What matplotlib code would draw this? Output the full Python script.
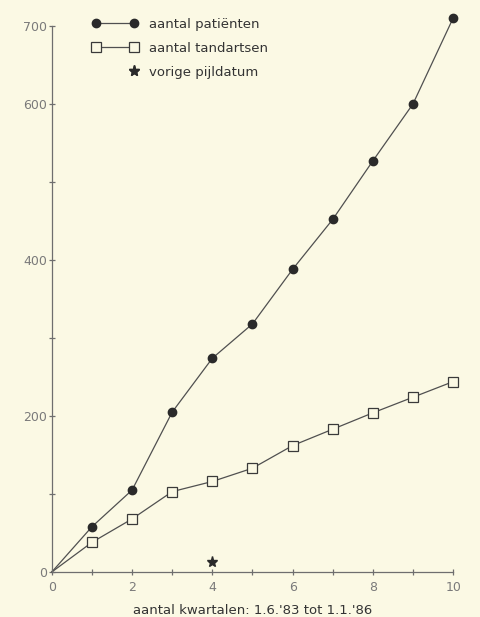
import matplotlib
matplotlib.use("Agg")
import matplotlib.pyplot as plt
from matplotlib.legend_handler import HandlerLine2D
from matplotlib.lines import Line2D

# Data
kwartalen = [0, 1, 2, 3, 4, 5, 6, 7, 8, 9, 10]
patienten = [0, 58, 105, 205, 274, 318, 388, 452, 527, 600, 710]
tandartsen = [0, 38, 68, 103, 116, 133, 162, 183, 204, 224, 244]
pijl_x = [4]
pijl_y = [13]
yticks_major = [0, 200, 400, 600, 700]
yticks_minor = [100, 300, 500]
xticks_major = [0, 2, 4, 6, 8, 10]
xticks_minor = [1, 3, 5, 7, 9]

bg = "#fbf9e4"
grey = "#6e6e6e"

plt.rcParams['font.family'] = ['DejaVu Sans']

fig = plt.figure(figsize=(4.8, 6.17), dpi=100, facecolor=bg)
ax = fig.add_axes([0.108, 0.073, 0.836, 0.885], facecolor=bg)

lc = "#505050"
ax.plot(kwartalen, patienten, color=lc, lw=0.9, zorder=2, clip_on=False)
ax.plot(kwartalen[1:], patienten[1:], ls='none', marker='o', ms=6,
        mfc='#2a2a2a', mec='#2a2a2a', zorder=3, clip_on=False)
ax.plot(kwartalen, tandartsen, color=lc, lw=0.9, zorder=2, clip_on=False)
ax.plot(kwartalen[1:], tandartsen[1:], ls='none', marker='s', ms=6.5,
        mfc=bg, mec='#3a3a3a', mew=0.9, zorder=3, clip_on=False)
ax.plot(pijl_x, pijl_y, ls='none', marker='*', ms=8, color='#2a2a2a',
        zorder=3, clip_on=False)

ax.set_xlim(0, 10)
ax.set_ylim(0, 700)
for s in ['top', 'right']:
    ax.spines[s].set_visible(False)
for s in ['left', 'bottom']:
    ax.spines[s].set_color(grey)
    ax.spines[s].set_linewidth(0.9)

ax.set_yticks(yticks_major)
ax.set_yticks(yticks_minor, minor=True)
ax.set_xticks(xticks_major)
ax.set_xticks(xticks_minor, minor=True)
ax.tick_params(which='both', direction='inout', length=5, width=0.9,
               color=grey, labelcolor='#7a7a7a', labelsize=9)
ax.tick_params(axis='y', pad=1)
ax.tick_params(axis='x', pad=4)
ax.set_xlabel("aantal kwartalen: 1.6.'83 tot 1.1.'86", fontsize=9.5,
              color='#333333', labelpad=7.5)


class EndMarkerHandler(HandlerLine2D):
    def get_xdata(self, legend, xdescent, ydescent, width, height, fontsize):
        xr = width - self._marker_pad * fontsize
        return [xr, xr], [xr]


h1 = Line2D([], [], color=lc, lw=0.9, marker='o', ms=6, mfc='#2a2a2a', mec='#2a2a2a')
h2 = Line2D([], [], color=lc, lw=0.9, marker='s', ms=6.5, mfc=bg, mec='#3a3a3a', mew=0.9)
h3 = Line2D([], [], ls='none', marker='*', ms=8, color='#2a2a2a')

leg = ax.legend([h1, h2, h3],
                ["aantal patiënten", "aantal tandartsen", "vorige pijldatum"],
                loc='upper left', bbox_to_anchor=(0.07, 1.037), frameon=False,
                fontsize=9.5, handlelength=3.5, handletextpad=0.85,
                labelspacing=0.85, numpoints=2,
                handler_map={h3: EndMarkerHandler(numpoints=2)})
for t in leg.get_texts():
    t.set_color('#333333')

fig.savefig("out.png", dpi=100, facecolor=bg)
